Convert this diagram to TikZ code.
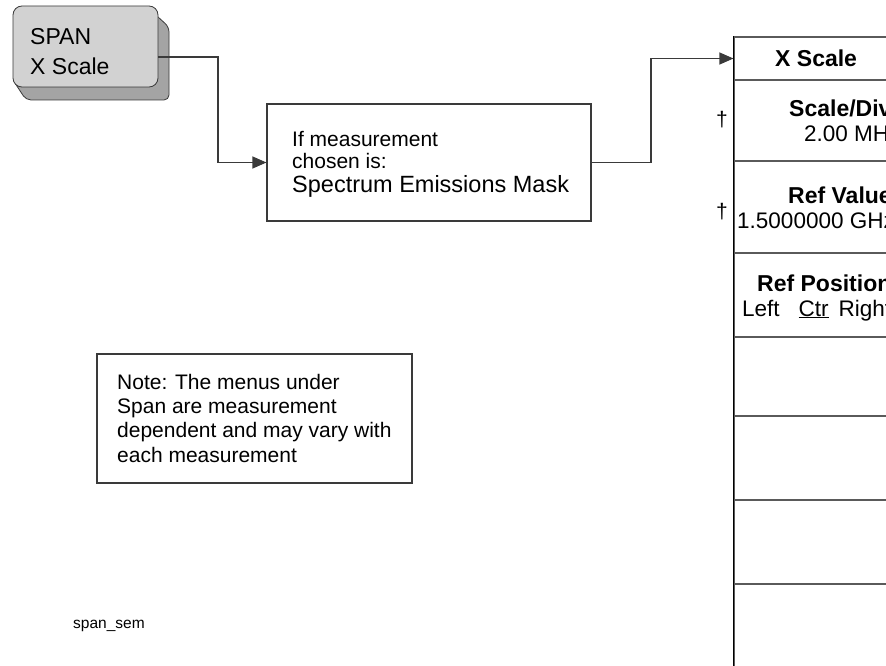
\documentclass[tikz,border=0pt]{standalone}
\usepackage{fontspec}
\setmainfont{Liberation Sans}
\usetikzlibrary{arrows.meta}
\definecolor{keyface}{HTML}{D2D2D2}
\definecolor{keyside}{HTML}{A4A4A4}
\definecolor{linegray}{HTML}{3A3A3A}
\definecolor{rowgray}{HTML}{5A5A5A}
\newcommand{\myfs}[1]{\fontsize{#1}{#1}\selectfont}
\begin{document}
\begin{tikzpicture}[x=1pt,y=-1pt,
  conn/.style={draw=linegray, line width=1.1pt},
  arr/.style={conn, -{Triangle[length=14pt,width=12pt]}},
  box/.style={draw=linegray, line width=1.1pt, inner sep=0pt, rectangle},
  menurow/.style={draw=rowgray, line width=1.1pt, inner sep=0pt, rectangle, minimum width=212pt},
  lbl/.style={inner sep=0pt, anchor=base west},
  keyst/.style={draw=linegray, line width=0.8pt, fill=keyface, rounded corners=9pt, inner sep=0pt}
]
\useasboundingbox (0,0) rectangle (886,666);
\clip (0,0) rectangle (886,666);
\fill[white] (0,0) rectangle (886,666);

% soft key
\filldraw[fill=keyside, draw=linegray, line width=0.8pt, rounded corners=5pt]
  (146,6) -- (169,27) -- (169,100) -- (26,100) -- (13,80) -- cycle;
\node[keyst, minimum width=145pt, minimum height=81pt] (key) at (85.5,46.5) {};
\node[lbl, font=\myfs{23}] (k1) at (30,45) {SPAN};
\node[lbl, font=\myfs{23}] (k2) at (30,75) {X Scale};
\coordinate (keyout) at (key.east |- 0,57);

% middle box
\node[box, minimum width=324pt, minimum height=117pt] (mbox) at (429,162.5) {};
\node[lbl, font=\myfs{21}] (m1) at (292,146.5) {If measurement};
\node[lbl, font=\myfs{21}] (m2) at (292,168.5) {chosen is:};
\node[lbl, font=\myfs{23.5}] (m3) at (292,192.5) {Spectrum Emissions Mask};

% menu
\node[menurow, minimum height=43pt] (hdr) at (840,58.5) {};
\node[menurow, minimum height=81pt] (r1) at (840,120.5) {};
\node[menurow, minimum height=92pt] (r2) at (840,207) {};
\node[menurow, minimum height=84pt] (r3) at (840,295) {};
\node[menurow, minimum height=79pt] (r4) at (840,376.5) {};
\node[menurow, minimum height=84pt] (r5) at (840,458) {};
\node[menurow, minimum height=84pt] (r6) at (840,542) {};
\node[menurow, minimum height=96pt] (r7) at (840,632) {};
\draw[line width=1.3pt, black] (hdr.north west) -- (r7.south west);

\node[lbl, font=\bfseries\myfs{23}] (t0) at (775,66.7) {X Scale};
\node[lbl, font=\bfseries\myfs{23}] (t1) at (789,116.5) {Scale/Div};
\node[lbl, font=\myfs{22.5}] (t1v) at (804,141.5) {2.00 MHz};
\node[lbl, font=\bfseries\myfs{23}] (t2) at (788,203) {Ref Value};
\node[lbl, font=\myfs{22.5}] (t2v) at (737,228) {1.5000000 GHz};
\node[lbl, font=\bfseries\myfs{23}] (t3) at (757,291) {Ref Position};
\node[lbl, font=\myfs{22.5}] (t3v) at (742,316) {Left\hspace{19pt}\underline{Ctr}\hspace{10pt}Right};
\node[inner sep=0pt, font=\myfs{21}] (d1) at (722,120) {†};
\node[inner sep=0pt, font=\myfs{21}] (d2) at (722,212) {†};

% note
\node[box, minimum width=315pt, minimum height=129pt] (note) at (254.5,418.5) {};
\node[lbl, font=\myfs{21}] (n1) at (117,389) {Note: The menus under};
\node[lbl, font=\myfs{21}] (n2) at (117,413.5) {Span are measurement};
\node[lbl, font=\myfs{21}] (n3) at (117,437.5) {dependent and may vary with};
\node[lbl, font=\myfs{21}] (n4) at (117,462) {each measurement};

\node[lbl, font=\myfs{15.5}] (fig) at (73,628.4) {span\_sem};

% connectors
\draw[arr] (keyout) -- (218,57) |- (mbox.west);
\draw[arr] (mbox.east) -- (651,162.5) |- (hdr.west);
\end{tikzpicture}
\end{document}
